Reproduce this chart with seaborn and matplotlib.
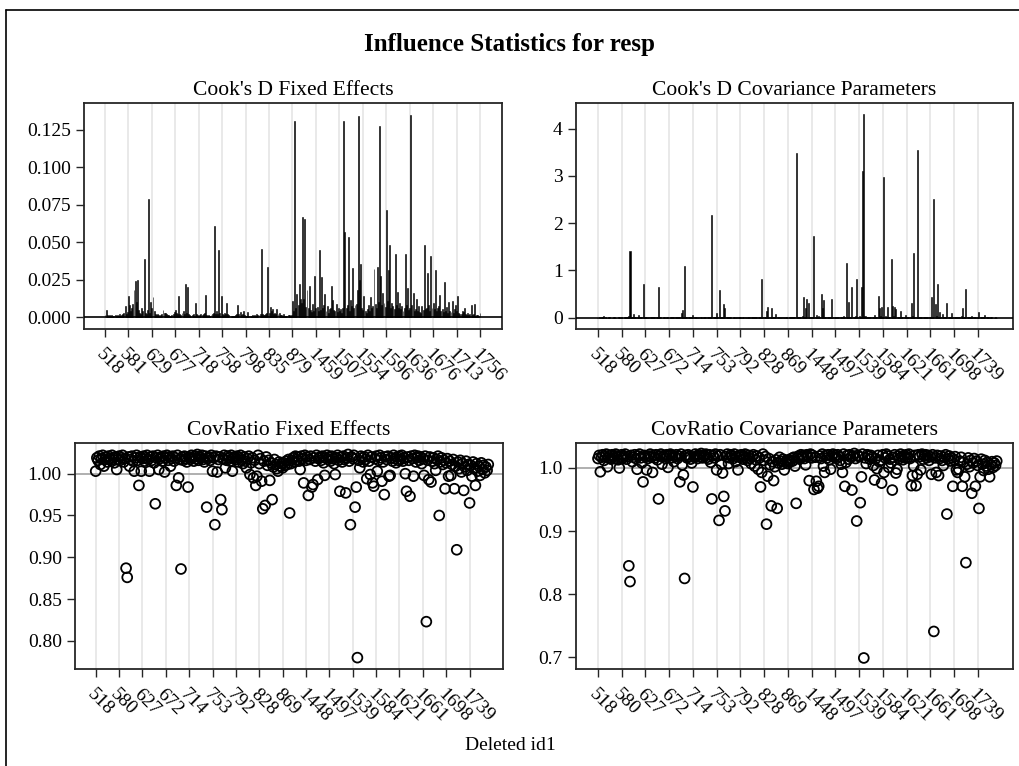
import numpy as np
import pandas as pd
import matplotlib
matplotlib.use("Agg")
import matplotlib.pyplot as plt
import seaborn as sns
from matplotlib.lines import Line2D
from matplotlib.ticker import FormatStrFormatter

# ---------------- data ----------------
IDS = [
    518, 521, 524, 527, 531, 534, 537, 540, 543, 546, 549, 552, 556, 559, 562, 565, 568, 571, 574, 577,
    580, 581, 583, 586, 588, 591, 593, 596, 598, 601, 603, 606, 608, 611, 613, 616, 618, 620, 623, 625,
    627, 628, 629, 632, 634, 637, 639, 642, 644, 647, 649, 652, 654, 657, 659, 662, 664, 667, 669, 670,
    672, 674, 675, 677, 679, 681, 683, 686, 688, 690, 692, 694, 697, 699, 701, 703, 705, 708, 710, 712,
    714, 715, 716, 717, 718, 720, 722, 724, 727, 729, 731, 733, 735, 738, 740, 742, 744, 746, 748, 751,
    753, 754, 755, 756, 757, 758, 760, 762, 765, 767, 769, 772, 774, 776, 779, 781, 783, 786, 788, 790,
    792, 793, 794, 795, 796, 797, 798, 800, 802, 805, 807, 809, 811, 813, 816, 818, 820, 822, 824, 826,
    828, 829, 830, 831, 832, 833, 834, 835, 838, 841, 843, 846, 849, 852, 854, 857, 860, 862, 865, 867,
    869, 870, 872, 873, 874, 876, 877, 878, 879, 881, 883, 885, 888, 890, 893, 895, 898, 1436, 1441, 1445,
    1448, 1449, 1450, 1452, 1453, 1454, 1455, 1456, 1458, 1459, 1462, 1466, 1469, 1473, 1476, 1480, 1483, 1487, 1490, 1494,
    1497, 1498, 1499, 1500, 1501, 1502, 1503, 1504, 1505, 1506, 1507, 1510, 1514, 1517, 1521, 1524, 1528, 1531, 1534, 1537,
    1539, 1540, 1541, 1543, 1544, 1545, 1547, 1548, 1550, 1551, 1553, 1554, 1557, 1561, 1565, 1568, 1572, 1575, 1578, 1581,
    1584, 1585, 1586, 1587, 1588, 1589, 1590, 1591, 1592, 1593, 1594, 1595, 1596, 1599, 1603, 1606, 1609, 1613, 1616, 1619,
    1621, 1622, 1623, 1624, 1625, 1626, 1627, 1628, 1629, 1630, 1632, 1633, 1635, 1636, 1640, 1644, 1647, 1651, 1654, 1658,
    1661, 1662, 1663, 1664, 1665, 1666, 1667, 1668, 1669, 1670, 1671, 1672, 1673, 1675, 1676, 1680, 1683, 1687, 1691, 1695,
    1698, 1699, 1700, 1701, 1702, 1703, 1704, 1705, 1706, 1707, 1708, 1709, 1710, 1711, 1712, 1713, 1718, 1724, 1729, 1734,
    1739, 1740, 1741, 1742, 1743, 1744, 1745, 1746, 1747, 1748, 1749, 1750, 1751, 1752, 1754, 1755, 1756,
]

TICKS_FE = ["518", "581", "629", "677", "718", "758", "798", "835", "879",
            "1459", "1507", "1554", "1596", "1636", "1676", "1713", "1756"]
TICKS_OTHER = ["518", "580", "627", "672", "714", "753", "792", "828", "869",
               "1448", "1497", "1539", "1584", "1621", "1661", "1698", "1739"]

COOKD_FE = [
    0.0012, 0.0049, 0.0015, 0.0008, 0.0012, 0.0006, 0.0014, 0.0009, 0.0011, 0.0017, 0.0007, 0.0013, 0.0010, 0.0021, 0.0009, 0.0016, 0.0024, 0.0031, 0.0076, 0.0022, 0.0035,
    0.0145, 0.0080, 0.0040, 0.0060, 0.0087, 0.0180, 0.0240, 0.0100, 0.0250, 0.0050, 0.0030, 0.0020, 0.0060, 0.0040, 0.0387, 0.0030, 0.0020, 0.0050, 0.0790, 0.0030, 0.0105,
    0.0060, 0.0138, 0.0040, 0.0020, 0.0015, 0.0020, 0.0012, 0.0010, 0.0018, 0.0025, 0.0050, 0.0030, 0.0028, 0.0020, 0.0016, 0.0012, 0.0010, 0.0008, 0.0014, 0.0020, 0.0035,
    0.0050, 0.0030, 0.0020, 0.0140, 0.0020, 0.0015, 0.0030, 0.0040, 0.0025, 0.0220, 0.0030, 0.0205, 0.0020, 0.0015, 0.0010, 0.0012, 0.0020, 0.0009, 0.0093, 0.0020, 0.0012,
    0.0008, 0.0012, 0.0020, 0.0015, 0.0024, 0.0030, 0.0147, 0.0018, 0.0010, 0.0012, 0.0009, 0.0015, 0.0020, 0.0030, 0.0610, 0.0025, 0.0040, 0.0020, 0.0445, 0.0030, 0.0142,
    0.0020, 0.0015, 0.0030, 0.0025, 0.0093, 0.0020, 0.0012, 0.0010, 0.0008, 0.0006, 0.0009, 0.0011, 0.0015, 0.0025, 0.0082, 0.0020, 0.0035, 0.0015, 0.0020, 0.0040, 0.0012,
    0.0009, 0.0007, 0.0035, 0.0011, 0.0008, 0.0006, 0.0012, 0.0009, 0.0015, 0.0011, 0.0020, 0.0014, 0.0018, 0.0025, 0.0454, 0.0020, 0.0015, 0.0012, 0.0020, 0.0030, 0.0338,
    0.0030, 0.0070, 0.0040, 0.0055, 0.0025, 0.0030, 0.0020, 0.0056, 0.0025, 0.0030, 0.0015, 0.0012, 0.0010, 0.0020, 0.0008, 0.0011, 0.0009, 0.0012, 0.0015, 0.0007, 0.0012,
    0.0110, 0.0045, 0.1310, 0.0060, 0.0156, 0.0080, 0.0220, 0.0125, 0.0095, 0.0667, 0.0120, 0.0654, 0.0070, 0.0180, 0.0060, 0.0210, 0.0050, 0.0035, 0.0090, 0.0040, 0.0276,
    0.0060, 0.0070, 0.0045, 0.0445, 0.0050, 0.0267, 0.0060, 0.0085, 0.0156, 0.0045, 0.0075, 0.0030, 0.0055, 0.0065, 0.0210, 0.0115, 0.0050, 0.0040, 0.0090, 0.0035, 0.0065,
    0.0040, 0.0055, 0.0030, 0.0060, 0.1310, 0.0565, 0.0065, 0.0080, 0.0534, 0.0045, 0.0115, 0.0075, 0.0327, 0.0060, 0.0085, 0.0090, 0.0180, 0.1340, 0.0250, 0.0354, 0.0065,
    0.0050, 0.0142, 0.0045, 0.0030, 0.0055, 0.0080, 0.0040, 0.0138, 0.0065, 0.0075, 0.0320, 0.0090, 0.0065, 0.0338, 0.0105, 0.1277, 0.0276, 0.0085, 0.0160, 0.0095, 0.0070,
    0.0716, 0.0110, 0.0316, 0.0483, 0.0065, 0.0092, 0.0075, 0.0055, 0.0420, 0.0080, 0.0170, 0.0065, 0.0095, 0.0055, 0.0075, 0.0045, 0.0060, 0.0423, 0.0085, 0.0194, 0.0050,
    0.0065, 0.1350, 0.0085, 0.0160, 0.0045, 0.0055, 0.0120, 0.0040, 0.0075, 0.0035, 0.0030, 0.0075, 0.0050, 0.0483, 0.0055, 0.0065, 0.0294, 0.0085, 0.0040, 0.0410, 0.0060,
    0.0095, 0.0055, 0.0316, 0.0040, 0.0065, 0.0075, 0.0149, 0.0045, 0.0055, 0.0035, 0.0234, 0.0045, 0.0070, 0.0030, 0.0105, 0.0040, 0.0035, 0.0110, 0.0030, 0.0055, 0.0085,
    0.0040, 0.0145, 0.0030, 0.0025, 0.0020, 0.0045, 0.0035, 0.0060, 0.0025, 0.0015, 0.0030, 0.0012, 0.0020, 0.0082, 0.0015, 0.0020, 0.0087, 0.0010, 0.0015, 0.0012, 0.0008,
    0.0027,
]

COOKD_COV = [
    0.003, 0.004, 0.002, 0.005, 0.008, 0.035, 0.006, 0.003, 0.002, 0.004, 0.005, 0.003, 0.002, 0.004, 0.006, 0.003, 0.002, 0.005, 0.004, 0.003,
    0.004, 0.003, 0.006, 0.005, 0.020, 0.008, 0.030, 1.420, 0.010, 0.012, 0.070, 0.008, 0.006, 0.010, 0.050, 0.007, 0.005, 0.015, 0.710, 0.006,
    0.004, 0.005, 0.003, 0.006, 0.004, 0.008, 0.020, 0.005, 0.004, 0.007, 0.012, 0.640, 0.006, 0.004, 0.003, 0.005, 0.004, 0.003, 0.006, 0.004,
    0.003, 0.005, 0.004, 0.006, 0.008, 0.005, 0.010, 0.007, 0.012, 0.020, 0.090, 0.160, 0.015, 1.100, 0.010, 0.006, 0.008, 0.005, 0.004, 0.007,
    0.060, 0.006, 0.004, 0.005, 0.003, 0.004, 0.006, 0.005, 0.003, 0.004, 0.006, 0.020, 0.005, 0.004, 0.008, 0.012, 2.170, 0.010, 0.006, 0.008,
    0.100, 0.015, 0.590, 0.012, 0.008, 0.020, 0.280, 0.200, 0.010, 0.006, 0.005, 0.004, 0.006, 0.003, 0.004, 0.005, 0.003, 0.004, 0.006, 0.020,
    0.004, 0.003, 0.005, 0.004, 0.006, 0.003, 0.004, 0.005, 0.006, 0.004, 0.005, 0.008, 0.020, 0.006, 0.005, 0.004, 0.008, 0.012, 0.810, 0.010,
    0.006, 0.015, 0.140, 0.230, 0.020, 0.010, 0.200, 0.012, 0.006, 0.010, 0.080, 0.008, 0.004, 0.005, 0.003, 0.004, 0.006, 0.003, 0.005, 0.004,
    0.003, 0.005, 0.004, 0.006, 0.008, 0.005, 0.010, 3.480, 0.012, 0.006, 0.008, 0.010, 0.030, 0.440, 0.020, 0.200, 0.400, 0.320, 0.015, 0.010,
    0.012, 0.020, 1.730, 0.015, 0.050, 0.010, 0.040, 0.020, 0.510, 0.200, 0.370, 0.012, 0.008, 0.006, 0.010, 0.005, 0.008, 0.400, 0.010, 0.006,
    0.005, 0.004, 0.006, 0.008, 0.005, 0.010, 0.012, 0.030, 0.020, 1.150, 0.015, 0.330, 0.010, 0.020, 0.640, 0.012, 0.015, 0.030, 0.810, 0.020,
    0.040, 0.015, 0.640, 3.100, 4.310, 0.030, 0.010, 0.008, 0.006, 0.010, 0.005, 0.008, 0.020, 0.060, 0.012, 0.015, 0.450, 0.200, 0.030, 0.220,
    0.020, 2.970, 0.040, 0.015, 0.230, 0.020, 0.010, 1.250, 0.250, 0.030, 0.230, 0.190, 0.020, 0.010, 0.015, 0.150, 0.010, 0.008, 0.020, 0.060,
    0.010, 0.008, 0.006, 0.015, 0.320, 0.030, 1.370, 0.020, 0.015, 3.550, 0.020, 0.010, 0.006, 0.005, 0.004, 0.006, 0.005, 0.008, 0.006, 0.010,
    0.015, 0.440, 0.020, 2.510, 0.280, 0.030, 0.710, 0.020, 0.110, 0.012, 0.080, 0.010, 0.006, 0.010, 0.320, 0.012, 0.008, 0.010, 0.090, 0.006,
    0.005, 0.004, 0.006, 0.008, 0.005, 0.010, 0.030, 0.200, 0.015, 0.020, 0.610, 0.010, 0.006, 0.005, 0.008, 0.040, 0.006, 0.004, 0.005, 0.003,
    0.008, 0.110, 0.010, 0.005, 0.004, 0.006, 0.060, 0.008, 0.005, 0.004, 0.003, 0.005, 0.004, 0.003, 0.002, 0.004, 0.003,
]

COVRATIO_FE = [
    1.003, 1.019, 1.016, 1.021, 1.011, 1.018, 1.022, 1.009, 1.017, 1.020, 1.014, 1.021, 1.018, 1.016, 1.022, 1.019, 1.013, 1.020, 1.005, 1.017,
    1.021, 1.016, 1.019, 1.022, 1.014, 1.018, 0.887, 0.876, 1.020, 1.009, 1.017, 1.021, 1.015, 1.003, 1.019, 1.022, 1.016, 0.986, 1.020, 1.003,
    1.018, 1.021, 1.015, 1.019, 1.022, 1.017, 1.003, 1.020, 1.016, 1.021, 1.013, 0.964, 1.019, 1.022, 1.005, 1.018, 1.020, 1.015, 1.021, 1.002,
    1.019, 1.022, 1.016, 1.020, 1.009, 1.018, 1.021, 1.015, 1.019, 0.986, 1.022, 0.995, 1.017, 0.886, 1.020, 1.016, 1.021, 1.018, 1.014, 0.984,
    1.020, 1.017, 1.022, 1.019, 1.015, 1.021, 1.018, 1.023, 1.016, 1.020, 1.019, 1.022, 1.017, 1.014, 1.021, 0.960, 1.018, 1.020, 1.016, 1.022,
    1.003, 1.019, 0.939, 1.021, 1.002, 1.017, 1.020, 0.969, 0.957, 1.018, 1.022, 1.007, 1.016, 1.021, 1.019, 1.015, 1.022, 1.003, 1.018, 1.020,
    1.017, 1.021, 1.014, 1.019, 1.022, 1.016, 1.012, 1.020, 1.015, 1.007, 1.018, 1.021, 0.999, 1.013, 1.019, 0.995, 1.016, 0.986, 0.997, 1.022,
    1.012, 1.018, 0.991, 0.958, 1.015, 0.962, 1.020, 1.010, 1.016, 0.992, 1.013, 0.969, 1.008, 1.017, 1.011, 1.006, 1.003, 1.014, 1.009, 1.012,
    1.007, 1.013, 1.010, 1.015, 1.011, 1.017, 0.953, 1.012, 1.016, 1.019, 1.014, 1.021, 1.017, 1.020, 1.015, 1.005, 1.021, 1.018, 0.989, 1.022,
    1.016, 1.020, 0.974, 1.017, 1.021, 0.984, 0.987, 1.019, 1.015, 1.022, 0.993, 1.018, 1.020, 1.016, 1.021, 1.013, 0.998, 1.019, 1.022, 1.017,
    1.020, 1.015, 1.021, 1.018, 1.012, 0.999, 1.019, 1.022, 1.016, 0.979, 1.020, 1.014, 1.021, 1.017, 0.977, 1.019, 1.023, 1.015, 0.939, 1.020,
    1.018, 1.022, 0.960, 0.984, 0.780, 1.016, 1.007, 1.021, 1.019, 1.014, 1.020, 1.017, 0.994, 1.022, 1.015, 0.999, 1.020, 0.989, 0.985, 1.018,
    1.021, 1.003, 1.016, 1.022, 1.019, 0.991, 1.014, 0.975, 1.020, 1.017, 1.021, 0.997, 0.998, 1.019, 1.015, 1.022, 1.018, 1.013, 1.020, 1.016,
    1.021, 1.017, 1.022, 1.015, 1.019, 1.000, 0.979, 1.020, 1.016, 0.973, 1.021, 1.018, 0.997, 1.022, 1.014, 1.019, 1.021, 1.016, 1.020, 1.012,
    1.018, 0.998, 1.021, 0.823, 1.016, 0.993, 1.020, 0.990, 1.015, 1.019, 1.012, 1.004, 1.017, 1.021, 0.950, 1.014, 1.019, 1.011, 1.016, 0.982,
    1.013, 1.018, 0.997, 1.015, 0.998, 1.011, 1.017, 0.982, 1.009, 0.909, 1.014, 1.006, 1.016, 1.002, 1.012, 0.980, 1.008, 1.015, 1.004, 1.011,
    0.965, 1.010, 0.997, 1.014, 1.006, 0.986, 1.012, 1.003, 1.009, 0.998, 1.013, 1.005, 1.010, 1.001, 1.008, 1.004, 1.011,
]

COVRATIO_COV = [
    1.015, 1.020, 0.994, 1.017, 1.021, 1.012, 1.018, 1.022, 1.002, 1.016, 1.020, 1.014, 1.021, 1.018, 1.015, 1.022, 1.019, 1.013, 1.000, 1.017,
    1.021, 1.016, 1.019, 1.022, 1.014, 1.018, 0.845, 0.820, 1.020, 1.010, 1.017, 1.021, 1.015, 0.998, 1.019, 1.022, 1.016, 1.008, 0.978, 1.020,
    1.018, 0.997, 1.015, 1.019, 1.022, 1.017, 0.993, 1.020, 1.016, 1.021, 1.013, 0.951, 1.019, 1.022, 1.006, 1.018, 1.020, 1.015, 1.021, 1.001,
    1.019, 1.022, 1.016, 1.020, 1.010, 1.018, 1.021, 1.015, 1.019, 0.978, 1.022, 1.005, 0.989, 0.825, 1.020, 1.016, 1.021, 1.018, 1.014, 1.008,
    0.970, 1.017, 1.022, 1.019, 1.015, 1.021, 1.018, 1.023, 1.016, 1.020, 1.019, 1.022, 1.017, 1.014, 1.021, 1.009, 0.951, 1.020, 1.016, 1.022,
    0.997, 1.019, 0.917, 1.021, 1.006, 0.992, 0.955, 0.932, 1.018, 1.022, 1.007, 1.016, 1.021, 1.019, 1.015, 1.022, 1.010, 1.018, 0.997, 1.020,
    1.017, 1.021, 1.014, 1.019, 1.022, 1.016, 1.012, 1.020, 1.015, 1.007, 1.018, 1.021, 1.003, 1.013, 1.019, 0.998, 1.016, 0.970, 0.993, 1.022,
    1.012, 1.018, 0.911, 0.987, 1.015, 1.005, 0.940, 1.010, 0.980, 1.002, 1.013, 0.936, 1.008, 1.017, 1.011, 1.006, 1.014, 0.997, 1.009, 1.012,
    1.007, 1.013, 1.010, 1.015, 1.011, 1.017, 1.003, 0.944, 1.016, 1.019, 1.014, 1.021, 1.017, 1.020, 1.015, 1.005, 1.021, 1.018, 0.980, 1.022,
    1.016, 1.020, 0.966, 1.017, 0.979, 0.968, 0.971, 1.019, 1.015, 1.022, 1.003, 0.993, 1.020, 1.016, 1.021, 1.013, 0.998, 1.019, 1.022, 1.017,
    1.020, 1.015, 1.021, 1.018, 1.012, 1.006, 0.993, 1.022, 0.971, 1.009, 1.020, 1.014, 1.021, 1.017, 0.965, 1.019, 1.023, 1.015, 0.916, 1.020,
    1.018, 0.945, 0.986, 1.022, 0.699, 1.016, 1.007, 1.021, 1.019, 1.014, 1.020, 1.017, 1.004, 0.981, 1.015, 0.999, 1.020, 1.010, 1.012, 0.976,
    1.021, 0.993, 1.016, 1.022, 1.019, 1.001, 1.014, 1.008, 0.965, 1.017, 1.021, 0.992, 0.998, 1.019, 1.015, 1.022, 1.018, 1.013, 1.020, 1.016,
    1.021, 1.017, 1.022, 1.015, 0.972, 0.988, 1.003, 1.020, 0.972, 0.990, 1.021, 1.018, 0.997, 1.022, 1.014, 1.019, 1.021, 1.016, 1.020, 1.012,
    1.018, 0.990, 1.021, 0.741, 1.016, 0.993, 1.020, 0.988, 1.015, 1.019, 1.012, 1.004, 1.017, 1.021, 0.927, 1.014, 1.019, 1.011, 1.016, 0.971,
    1.013, 1.018, 0.997, 0.993, 0.998, 1.011, 1.017, 0.971, 1.009, 0.986, 0.850, 1.006, 1.016, 1.002, 1.012, 0.960, 1.008, 1.015, 0.971, 1.011,
    1.004, 0.936, 0.986, 1.014, 1.006, 0.996, 1.012, 1.003, 1.009, 0.998, 0.986, 1.005, 1.010, 1.001, 1.008, 1.004, 1.011,
]

N = len(IDS)
assert len(COOKD_FE) == N and len(COOKD_COV) == N, (len(COOKD_FE), len(COOKD_COV))
assert len(COVRATIO_FE) == N and len(COVRATIO_COV) == N, (len(COVRATIO_FE), len(COVRATIO_COV))

id_labels = [str(i) for i in IDS]
df = pd.DataFrame({"id": id_labels, "cd_fe": COOKD_FE, "cd_cov": COOKD_COV,
                   "cr_fe": COVRATIO_FE, "cr_cov": COVRATIO_COV})

# ---------------- style ----------------
sns.set_style("ticks")
plt.rcParams["font.family"] = ["Liberation Serif", "DejaVu Serif"]
plt.rcParams["text.color"] = "black"
plt.rcParams["xtick.color"] = "black"
plt.rcParams["ytick.color"] = "black"
plt.rcParams["xtick.labelcolor"] = "black"
plt.rcParams["ytick.labelcolor"] = "black"

W, H = 1020, 766
fig = plt.figure(figsize=(W / 100, H / 100), dpi=100)


def box(l, t, r, b):
    return [l / W, 1 - b / H, (r - l) / W, (b - t) / H]


ax_tl = fig.add_axes(box(84, 103, 502, 329))
ax_tr = fig.add_axes(box(576, 103, 1013, 329))
ax_bl = fig.add_axes(box(75, 443, 503, 669))
ax_br = fig.add_axes(box(576, 443, 1013, 669))

EDGE = "#262626"
GRID = "#e9e9e9"


def finish(ax, title, ticks, xlim, ylim, yticks, fmt):
    pos = [id_labels.index(t) for t in ticks]
    ax.set_xticks(pos)
    ax.set_xticklabels(ticks)
    ax.set_xlim(*xlim)
    ax.set_ylim(*ylim)
    ax.set_yticks(yticks)
    ax.yaxis.set_major_formatter(FormatStrFormatter(fmt))
    ax.set_xlabel("")
    ax.set_ylabel("")
    ax.set_title(title, fontsize=15.5, pad=6, color="black")
    ax.grid(axis="x", color=GRID, linewidth=1.4)
    ax.grid(axis="y", visible=False)
    ax.set_axisbelow(True)
    for s in ax.spines.values():
        s.set_visible(True)
        s.set_color(EDGE)
        s.set_linewidth(1.3)
    ax.tick_params(axis="both", direction="out", length=6, width=1.0,
                   color=EDGE, labelsize=14, labelcolor="black")
    ax.tick_params(axis="x", pad=6)
    for lbl in ax.get_xticklabels():
        lbl.set_rotation(-45)
        lbl.set_ha("left")
        lbl.set_va("top")
        lbl.set_rotation_mode("anchor")


# Cook's D panels (needle-like bars)
sns.barplot(data=df, x="id", y="cd_fe", order=id_labels, color="black",
            saturation=1, width=0.85, errorbar=None, linewidth=0.4,
            edgecolor="black", ax=ax_tl)
ax_tl.axhline(0, color="black", linewidth=1.2, zorder=3)
finish(ax_tl, "Cook's D Fixed Effects", TICKS_FE, (-18.8, 355.7),
       (-0.0078, 0.1427), [0, 0.025, 0.05, 0.075, 0.1, 0.125], "%.3f")

sns.barplot(data=df, x="id", y="cd_cov", order=id_labels, color="black",
            saturation=1, width=0.85, errorbar=None, linewidth=0.4,
            edgecolor="black", ax=ax_tr)
ax_tr.axhline(0, color="black", linewidth=1.2, zorder=3)
finish(ax_tr, "Cook's D Covariance Parameters", TICKS_OTHER, (-18.5, 349.7),
       (-0.24, 4.54), [0, 1, 2, 3, 4], "%d")

# CovRatio panels (hollow circles)
for ax, col, ylim, yt, fmt, title in [
    (ax_bl, "cr_fe", (0.7664, 1.0367), [0.80, 0.85, 0.90, 0.95, 1.00], "%.2f",
     "CovRatio Fixed Effects"),
    (ax_br, "cr_cov", (0.6815, 1.0396), [0.7, 0.8, 0.9, 1.0], "%.1f",
     "CovRatio Covariance Parameters"),
]:
    ax.axhline(1.0, color="#9a9a9a", linewidth=1.1, zorder=1)
    sns.scatterplot(data=df, x="id", y=col, ax=ax, s=50, marker="o",
                    facecolor="none", edgecolor="black", linewidth=1.3,
                    zorder=2)
    xl = (-17.7, 348.6) if ax is ax_bl else (-18.5, 349.7)
    finish(ax, title, TICKS_OTHER, xl, ylim, yt, fmt)

fig.text(0.5, 1 - 45 / H, "Influence Statistics for resp", ha="center",
         va="center", fontsize=18, fontweight="bold")
fig.text(0.5, 1 - 746 / H, "Deleted id1", ha="center", va="center",
         fontsize=14)

# outer border (SAS graph frame)
fig.add_artist(Line2D([6 / W, 1.0], [1 - 10 / H, 1 - 10 / H],
                      transform=fig.transFigure, color="black", linewidth=1.2))
fig.add_artist(Line2D([6 / W, 6 / W], [0.0, 1 - 10 / H],
                      transform=fig.transFigure, color="black", linewidth=1.2))

fig.savefig("out.png", dpi=100)
